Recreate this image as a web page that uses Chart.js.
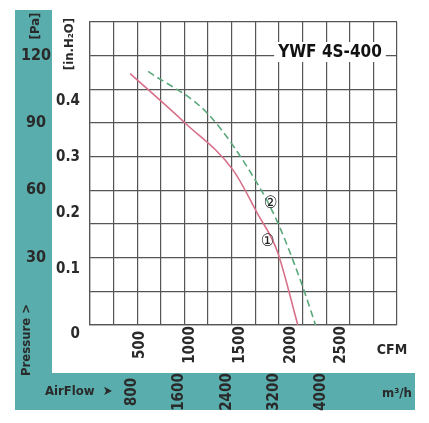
<!DOCTYPE html>
<html><head><meta charset="utf-8">
<script src="https://cdn.jsdelivr.net/npm/chart.js@4"></script>
<style>html,body{margin:0;padding:0;background:#fff}#w{width:429px;height:423px}</style>
</head><body><div id="w"><canvas id="c"></canvas></div>
<script>
const curve1 = [[680,112],[1610,90],[2424,69],[2830,50],[3170,33],[3520,0]];
const curve2 = [[985,113],[2000,94],[2880,61],[3190,45],[3590,18],[3820,0]];
const cfmTicks = [500,1000,1500,2000,2500];
const m3hTicks = [800,1600,2400,3200,4000];
const paTicks = [30,60,90,120];
const inchTicks = [0,0.1,0.2,0.3,0.4];
const CFM_PER_M3H = 1/1.699;
const PA_PER_IN = 249.1;
const FONT = '"DejaVu Sans Condensed","DejaVu Sans",sans-serif';
const TEAL = '#5aadad', TXT = '#2a2a2a';

const deco = {
  id:'deco',
  beforeDraw(ch){
    const c=ch.ctx; c.save();
    c.fillStyle=TEAL; c.fillRect(15,10,37,400); c.fillRect(15,373,400,37);
    c.restore();
  },
  afterDraw(ch){
    const c=ch.ctx, x=ch.scales.x, y=ch.scales.y;
    c.save(); c.fillStyle=TXT;
    const rot=(t,px,py,f,al)=>{c.save();c.translate(px,py);c.rotate(-Math.PI/2);c.font=f;c.textAlign=al||'center';c.textBaseline='middle';c.fillText(t,0,0);c.restore();};
    c.font='bold 16px '+FONT; c.textAlign='center'; c.textBaseline='middle';
    paTicks.forEach(v=>c.fillText(String(v),36,y.getPixelForValue(v)));
    rot('[Pa]',36,26,'bold 13px '+FONT);
    rot('Pressure >',27,340,'bold 13px '+FONT);
    rot('[in.H\u2082O]',70,44,'bold 13px '+FONT);
    c.font='bold 15px '+FONT; c.textAlign='right';
    inchTicks.forEach(v=>{let py=y.getPixelForValue(v*PA_PER_IN); if(v===0)py+=9; c.fillText(String(v),80,py);});
    cfmTicks.forEach(v=>rot(String(v),x.getPixelForValue(v/CFM_PER_M3H),345,'bold 15px '+FONT));
    c.font='bold 14px '+FONT; c.textAlign='center'; c.fillText('CFM',392,350);
    m3hTicks.forEach(v=>rot(String(v),x.getPixelForValue(v)-5,392,'bold 15px '+FONT));
    c.font='bold 13px '+FONT; c.textAlign='left'; c.fillText('AirFlow  \u27A4',45,392);
    c.fillText('m\u00B3/h',382,394);
    c.font='bold 17px '+FONT; c.textAlign='center';
    const tw=c.measureText('YWF 4S-400').width;
    c.fillStyle='#fff'; c.fillRect(330-tw/2-4,42,tw+8,20);
    c.fillStyle='#111'; c.fillText('YWF 4S-400',330,53);
    c.font='17px '+FONT; c.fillStyle='#222';
    c.fillText('\u2460',x.getPixelForValue(3010),y.getPixelForValue(37));
    c.fillText('\u2461',x.getPixelForValue(3060),y.getPixelForValue(54));
    c.restore();
  }
};

new Chart(document.getElementById('c'),{
  type:'scatter',
  data:{datasets:[
    {data:curve1.map(p=>({x:p[0],y:p[1]})),showLine:true,borderColor:'#d8708a',borderWidth:1.6,pointRadius:0,cubicInterpolationMode:'monotone'},
    {data:curve2.map(p=>({x:p[0],y:p[1]})),showLine:true,borderColor:'#5aa87c',borderWidth:1.6,borderDash:[7,4],pointRadius:0,cubicInterpolationMode:'monotone'}
  ]},
  options:{
    responsive:true,maintainAspectRatio:false,animation:false,
    layout:{padding:{left:90,top:22,right:32,bottom:98}},
    plugins:{legend:{display:false},tooltip:{enabled:false}},
    scales:{
      x:{type:'linear',min:0,max:5200,ticks:{stepSize:400,display:false},grid:{color:'#555',lineWidth:1.2,drawTicks:false},border:{color:'#555',width:1.2}},
      y:{type:'linear',min:0,max:135,ticks:{stepSize:15,display:false},grid:{color:'#555',lineWidth:1.2,drawTicks:false},border:{color:'#555',width:1.2}}
    }
  },
  plugins:[deco]
});
</script></body></html>
